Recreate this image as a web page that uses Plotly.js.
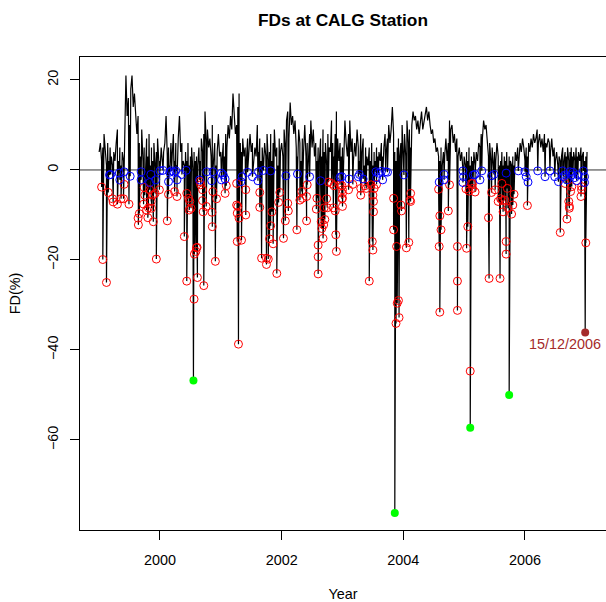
<!DOCTYPE html>
<html>
<head>
<meta charset="utf-8">
<script src="https://cdn.plot.ly/plotly-3.0.1.min.js"></script>
<style>html,body{margin:0;padding:0;background:#fff;}#chart{width:606px;height:602px;}</style>
</head>
<body>
<div id="chart"></div>
<script>
// Baseline FD (%) samples, 50 per year (start of each year onwards)
const base1999 = [4,6,2,5,8,3,1,6,2,5, 3,1,4,2,6,9,2,5,1,4, 2,7,21,12,16,10,18,21,14,17, 11,8,12,6,3,9,2,5,1,7, 3,8,1,5,2,6,0,4,7,2];
const base2000 = [2,5,1,4,6,12,3,5,1,6, 3,8,2,6,1,7,12,4,6,2, 1,4,2,6,1,3,5,0,4,2, 3,1,5,2,7,4,8,13,6,9, 5,7,3,10,2,6,1,4,8,3];
const base2001 = [4,2,6,3,8,5,10,7,12,9, 17,12,8,10,14,17,6,4,7,3, 5,2,7,3,8,4,6,1,5,3, 10,4,7,2,5,1,6,3,8,2, 4,8,2,6,9,3,5,1,7,4];
const base2002 = [6,3,9,5,11,13,7,15,10,12, 8,11,5,3,9,6,2,7,4,10, 3,6,2,8,11,5,9,3,6,2, 5,2,7,3,9,4,6,1,8,5, 4,11,6,3,8,13,7,2,6,3];
const base2003 = [5,2,11,6,3,8,11,4,7,2, 6,3,9,5,2,8,4,7,1,5, 3,1,5,2,6,1,4,2,5,3, 4,2,6,3,5,8,4,7,10,6, 9,14,8,4,2,5,7,3,6,10];
const base2004 = [4,8,3,11,6,9,5,10,13,11, 12,9,11,8,10,13,9,11,12,14, 11,13,10,8,9,6,7,4,5,3, 2,5,1,4,3,7,2,6,11,9, 10,6,8,4,7,3,5,2,4,1];
const base2005 = [3,1,4,2,5,1,3,2,4,1, 4,2,6,5,8,7,11,9,10,6, 3,6,2,5,1,4,2,6,3,1, 2,4,1,3,2,4,1,3,2,1, 3,1,4,2,5,3,6,4,7,5];
const base2006 = [2,5,3,6,4,7,5,8,6,7, 9,6,8,5,7,4,8,6,5,7, 6,4,7,3,5,2,4,1,3,2, 3,5,2,4,3,5,2,4,5,3, 4,2,5,3,4,2,5,3,4,2];
const base2007 = [3,4];
const baseYears = [1999,2000,2001,2002,2003,2004,2005,2006,2007];
const baseSeries = [base1999,base2000,base2001,base2002,base2003,base2004,base2005,base2006,base2007];

// Forbush decreases below -3 % (red)
const redYear = [1999.04,1999.06,1999.12,1999.15,1999.22,1999.23,1999.30,1999.36,1999.40,1999.41,1999.49,1999.64,1999.645,1999.66,1999.73,1999.74,1999.75,1999.78,1999.80,1999.81,1999.83,1999.855,1999.86,1999.88,1999.89,1999.92,1999.94,1999.99,
 2000.12,2000.14,2000.24,2000.28,2000.40,2000.44,2000.44,2000.47,2000.48,2000.49,2000.51,2000.56,2000.565,2000.59,2000.60,2000.61,2000.615,2000.66,2000.67,2000.70,2000.70,2000.71,2000.72,2000.76,2000.855,2000.86,2000.87,2000.91,2000.93,
 2001.07,2001.09,2001.26,2001.26,2001.27,2001.27,2001.28,2001.29,2001.30,2001.34,2001.41,2001.41,2001.64,2001.64,2001.67,2001.75,2001.75,2001.78,2001.80,2001.82,2001.84,2001.86,2001.92,2001.95,2001.97,
 2002.03,2002.06,2002.10,2002.11,2002.25,2002.30,2002.33,2002.34,2002.41,2002.41,2002.42,2002.57,2002.58,2002.60,2002.60,2002.60,2002.65,2002.66,2002.68,2002.69,2002.70,2002.71,2002.74,2002.75,2002.77,2002.82,2002.85,2002.86,2002.88,2002.89,2002.90,2002.96,2002.99,2002.99,
 2003.00,2003.00,2003.00,2003.00,2003.10,2003.17,2003.30,2003.30,2003.37,2003.39,2003.44,2003.47,2003.49,2003.50,2003.50,2003.51,2003.51,2003.52,2003.56,2003.84,2003.84,2003.88,2003.89,2003.90,2003.92,2003.93,2003.96,2003.97,
 2004.05,2004.09,2004.11,2004.12,2004.12,2004.58,2004.59,2004.60,2004.60,2004.62,2004.74,2004.76,2004.89,2004.89,2004.89,
 2005.03,2005.04,2005.06,2005.08,2005.10,2005.12,2005.14,2005.14,2005.18,2005.40,2005.41,2005.45,2005.51,2005.56,2005.59,2005.60,2005.62,2005.63,2005.64,2005.67,2005.69,2005.69,2005.71,2005.72,2005.78,2005.80,2005.82,
 2006.04,2006.58,2006.66,2006.69,2006.72,2006.73,2006.73,2006.75,2006.77,2006.92,2006.93,2006.93,2007.00];
const redFD = [-3.8,-19.9,-25.0,-5.0,-6.4,-7.1,-7.6,-6.4,-6.4,-3.2,-7.6,-10.7,-12.2,-9.7,-7.6,-3.9,-5.6,-8.9,-10.6,-8.4,-4.4,-7.0,-8.5,-5.6,-11.5,-5.2,-19.8,-4.4,
 -11.3,-5.4,-4.8,-5.9,-14.8,-5.2,-24.7,-6.3,-8.9,-7.0,-8.5,-28.7,-18.7,-18.1,-17.3,-17.2,-23.9,-2.6,-3.3,-4.4,-6.8,-9.3,-25.7,-8.1,-9.4,-12.6,-4.8,-20.3,-6.4,
 -5.2,-3.5,-3.0,-7.8,-9.6,-15.9,-8.1,-38.7,-10.7,-15.6,-4.4,-10.0,-5.0,-8.3,-19.6,-19.6,-21.0,-19.8,-15.3,-12.4,-9.3,-16.4,-23.0,-7.2,-5.0,
 -15.2,-11.3,-7.4,-9.1,-13.3,-6.7,-4.8,-6.3,-11.3,-5.9,-3.3,-8.7,-6.3,-16.7,-19.3,-23.1,-11.5,-13.0,-15.2,-12.2,-8.4,-11.0,-6.4,-8.4,-2.7,-3.0,-8.4,-3.5,-9.1,-14.4,-18.1,-3.3,-3.5,-6.4,
 -4.4,-6.3,-5.2,-8.1,-4.4,-3.2,-4.1,-5.6,-3.5,-4.1,-24.7,-3.3,-15.9,-5.6,-17.8,-7.0,-9.3,-4.1,-3.2,-6.3,-13.3,-34.1,-17.0,-29.6,-29.0,-32.8,-7.8,-9.1,
 -17.3,-16.1,-6.7,-7.0,-5.2,-4.3,-17.0,-10.2,-31.6,-13.3,-9.1,-3.3,-17.0,-24.7,-31.2,
 -4.2,-17.4,-12.6,-4.7,-44.7,-3.0,-4.1,-3.0,-4.9,-10.6,-24.1,-5.0,-4.4,-7.0,-24.1,-6.4,-3.0,-6.8,-9.3,-6.7,-15.9,-18.7,-4.1,-8.5,-9.8,-7.8,-5.4,
 -7.9,-13.9,-3.0,-10.9,-7.0,-8.1,-8.5,-4.8,-3.7,-5.9,-4.4,-3.7,-16.2];

// Small decreases between 0 and -3 % (blue)
const blueYear = [1999.17,1999.19,1999.33,1999.34,1999.41,1999.51,1999.69,1999.69,1999.83,1999.85,1999.93,
 2000.00,2000.05,2000.14,2000.16,2000.19,2000.23,2000.26,2000.28,2000.36,2000.43,2000.65,2000.77,2000.87,2000.85,
 2001.01,2001.01,2001.04,2001.07,2001.33,2001.35,2001.44,2001.52,2001.61,2001.62,2001.70,2001.82,
 2002.07,2002.26,2002.46,2002.64,2002.96,2002.99,
 2003.11,2003.26,2003.28,2003.34,2003.55,2003.56,2003.59,2003.64,2003.66,2003.71,2003.74,
 2004.01,2004.59,2004.67,2004.67,2004.98,2004.98,2004.99,
 2005.15,2005.18,2005.26,2005.29,2005.45,2005.49,2005.69,2005.89,
 2006.00,2006.02,2006.05,2006.21,2006.33,2006.41,2006.49,2006.55,2006.62,2006.63,2006.66,2006.69,2006.74,2006.77,2006.79,2006.82,2006.85,2006.87,2006.96,2006.98,2006.98];
const blueFD = [-1.1,-1.0,-0.7,-2.2,-0.4,-1.4,-0.4,-2.2,-2.8,-1.0,-2.2,
 -0.2,-0.1,-2.6,-0.5,-0.2,-0.5,-0.2,-2.2,-1.0,-0.1,-2.2,-0.4,-0.4,-2.4,
 -0.7,-2.2,-1.1,-2.0,-2.6,-1.5,-0.5,-1.5,-2.4,-0.4,-0.1,-0.2,
 -1.3,-0.9,-1.5,-2.4,-1.6,-1.5,
 -2.0,-1.5,-1.0,-2.0,-0.4,-1.7,-0.7,-0.3,-2.2,-0.4,-0.5,
 -1.1,-2.7,-1.0,-2.2,-0.2,-2.8,-1.5,
 -1.1,-1.0,-2.2,-0.2,-1.3,-1.0,-0.7,-0.2,
 -0.4,-1.5,-2.7,-0.2,-1.5,-0.2,-1.5,-2.6,-0.2,-1.5,-1.1,-2.2,-0.4,-1.1,-0.5,-1.7,-2.4,-1.1,-0.2,-1.5,-2.8];

// Large events (green) and the marked event (brown)
const greenYear = [2000.55,2003.86,2005.10,2005.74];
const greenFD = [-46.8,-76.2,-57.3,-50.0];
const brownYear = [2006.99];
const brownFD = [-36.1];
const brownLabel = '15/12/2006';

const titleText = 'FDs at CALG Station';
const xLabel = 'Year';
const yLabel = 'FD(%)';
const xTicks = [2000,2002,2004,2006];
const yTicks = [-60,-40,-20,0,20];

// Build the full line: baseline samples merged with event points
const pts = [];
baseSeries.forEach((arr, k) => {
  arr.forEach((v, i) => pts.push([baseYears[k] + i / 50, v, 0]));
});
redYear.forEach((t, i) => pts.push([t, redFD[i], 1]));
blueYear.forEach((t, i) => pts.push([t, blueFD[i], 1]));
greenYear.forEach((t, i) => pts.push([t, greenFD[i], 2]));
brownYear.forEach((t, i) => pts.push([t, brownFD[i], 2]));
pts.sort((a, b) => (a[0] - b[0]) || (a[2] - b[2]));
const lineX = pts.map(p => p[0]);
const lineY = pts.map(p => p[1]);

const FONT = 'Liberation Sans, Arial, Helvetica, sans-serif';

const traces = [
  {x: lineX, y: lineY, type: 'scatter', mode: 'lines', line: {color: '#000', width: 1.2}, hoverinfo: 'skip'},
  {x: redYear, y: redFD, type: 'scatter', mode: 'markers', marker: {symbol: 'circle-open', size: 8, color: '#FF0000', line: {width: 1, color: '#FF0000'}}},
  {x: blueYear, y: blueFD, type: 'scatter', mode: 'markers', marker: {symbol: 'circle-open', size: 8, color: '#0000FF', line: {width: 1, color: '#0000FF'}}},
  {x: greenYear, y: greenFD, type: 'scatter', mode: 'markers', marker: {symbol: 'circle', size: 8, color: '#00FF00'}},
  {x: brownYear, y: brownFD, type: 'scatter', mode: 'markers', marker: {symbol: 'circle', size: 8, color: '#A52A2A'}}
];

const layout = {
  width: 606, height: 602,
  margin: {l: 80, r: 0, t: 57, b: 72, pad: 0},
  paper_bgcolor: '#fff', plot_bgcolor: '#fff',
  showlegend: false,
  font: {family: FONT, size: 14.4, color: '#000'},
  title: {text: '<b>' + titleText + '</b>', font: {family: FONT, size: 17.3, color: '#000'}, x: 0.566, xanchor: 'center', y: 0.967, yanchor: 'middle'},
  xaxis: {
    range: [1998.685, 2007.332], tickvals: xTicks, ticktext: xTicks.map(String),
    showgrid: false, zeroline: false, showline: true, mirror: true, linecolor: '#000', linewidth: 1,
    ticks: 'outside', ticklen: 9, tickwidth: 1, tickcolor: '#000', ticklabelstandoff: 8,
    tickfont: {family: FONT, size: 14.4, color: '#000'},
    title: {text: xLabel, font: {family: FONT, size: 14.4, color: '#000'}, standoff: 21}
  },
  yaxis: {
    range: [-80.0, 25.1], tickvals: yTicks, ticktext: yTicks.map(v => v < 0 ? '\u2212' + Math.abs(v) : String(v)),
    showgrid: false, zeroline: false, showline: true, mirror: false, linecolor: '#000', linewidth: 1,
    ticks: 'outside', ticklen: 9, tickwidth: 1, tickcolor: '#000', tickangle: -90, ticklabelstandoff: 6,
    tickfont: {family: FONT, size: 14.4, color: '#000'},
    title: {text: yLabel, font: {family: FONT, size: 14.4, color: '#000'}, standoff: 21}
  },
  shapes: [{type: 'line', xref: 'paper', x0: 0, x1: 1, yref: 'y', y0: 0, y1: 0, layer: 'below', line: {color: '#333', width: 1}}],
  annotations: [{x: brownYear[0], y: brownFD[0], xref: 'x', yref: 'y', text: brownLabel, showarrow: false,
    xshift: -20, yshift: -12, font: {family: FONT, size: 14.4, color: '#A52A2A'}}]
};

Plotly.newPlot('chart', traces, layout, {displayModeBar: false, staticPlot: true});
</script>
</body>
</html>
